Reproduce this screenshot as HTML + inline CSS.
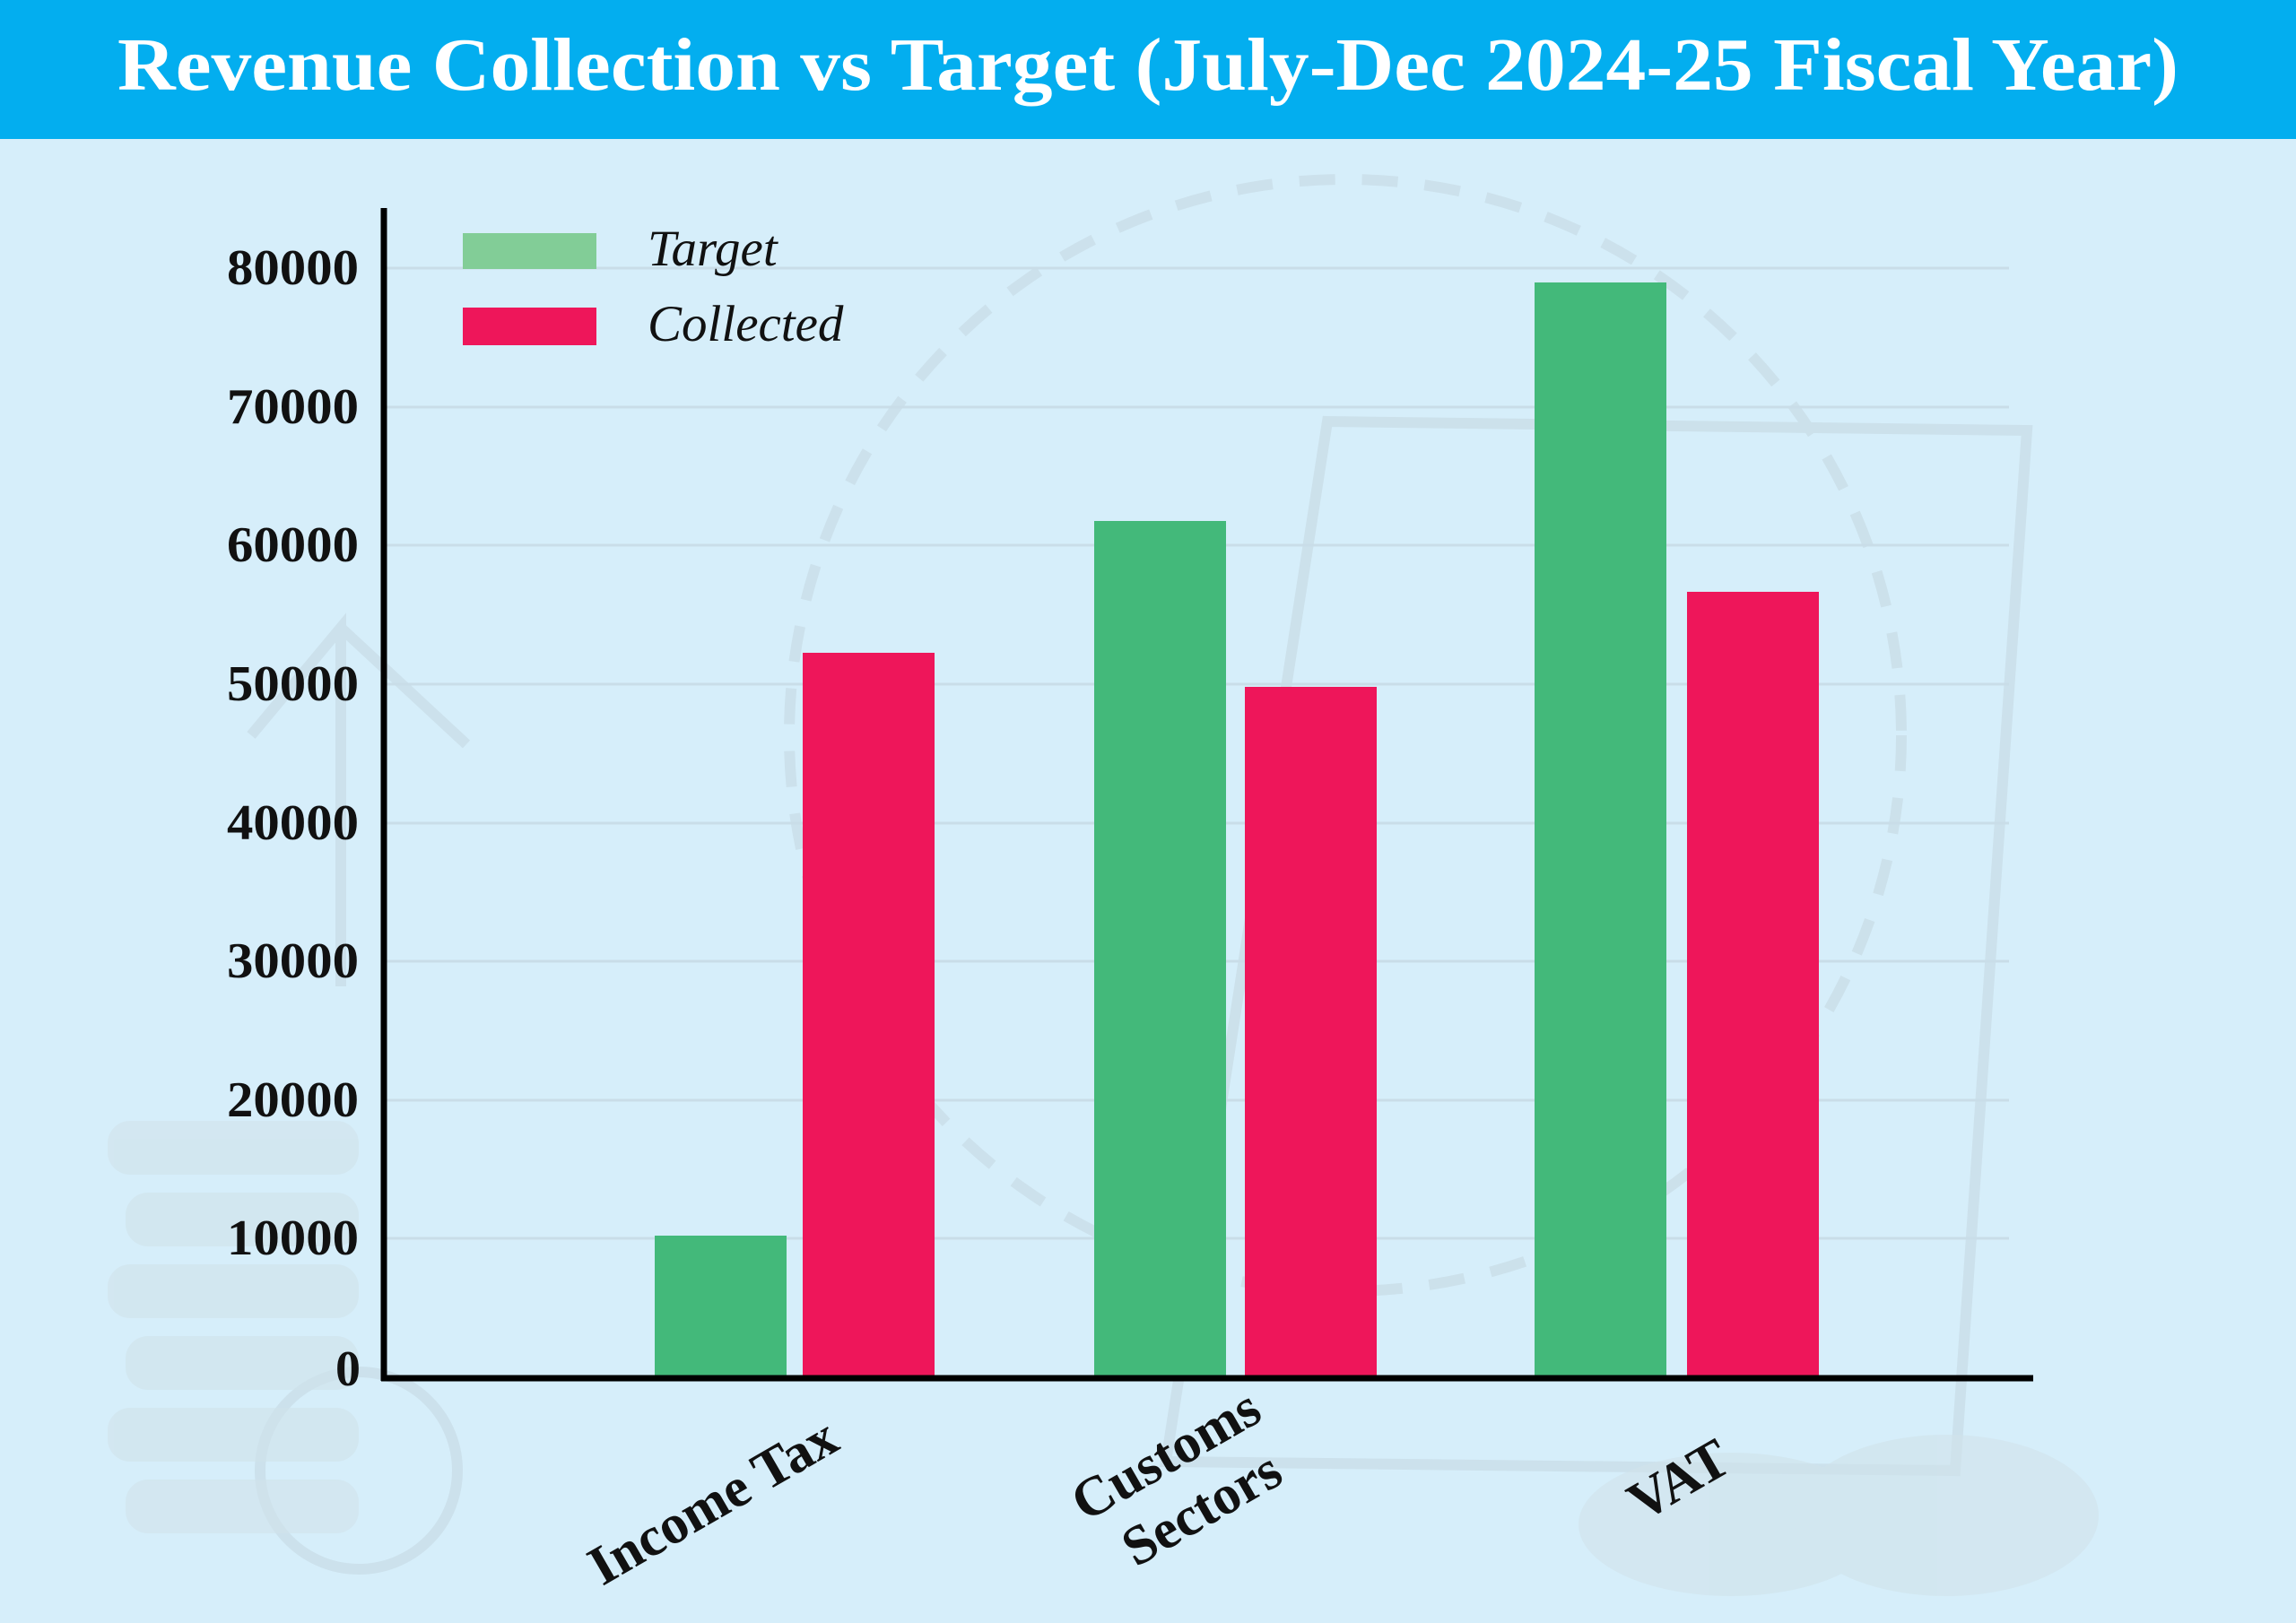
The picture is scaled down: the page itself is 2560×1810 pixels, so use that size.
<!DOCTYPE html>
<html><head><meta charset="utf-8"><style>
html,body{margin:0;padding:0;}
body{width:2560px;height:1810px;background:#d6eefa;position:relative;overflow:hidden;font-family:"Liberation Serif",serif;}
</style></head><body>
<svg width="2560" height="1810" xmlns="http://www.w3.org/2000/svg" style="position:absolute;left:0;top:0">
<rect x="0" y="0" width="2560" height="1810" fill="#d6eefa"/>
<g fill="none" stroke="#c8dce6" stroke-width="12" opacity="0.7">
<circle cx="1500" cy="820" r="620" stroke-dasharray="40 30"/>
<path d="M1480 470 L2260 480 L2180 1640 L1300 1630 Z"/>
<circle cx="400" cy="1640" r="110"/>
<path d="M380 1100 L380 700 L280 820 M380 700 L520 830"/>
</g>
<g fill="#d0e3eb" opacity="0.6">
<rect x="120" y="1250" width="280" height="60" rx="25"/>
<rect x="140" y="1330" width="260" height="60" rx="25"/>
<rect x="120" y="1410" width="280" height="60" rx="25"/>
<rect x="140" y="1490" width="260" height="60" rx="25"/>
<rect x="120" y="1570" width="280" height="60" rx="25"/>
<rect x="140" y="1650" width="260" height="60" rx="25"/>
<ellipse cx="1930" cy="1700" rx="170" ry="80"/>
<ellipse cx="2170" cy="1690" rx="170" ry="90"/>
</g>
<g stroke="#c9dde8" stroke-width="3">
<line x1="428" y1="299" x2="2240" y2="299"/><line x1="428" y1="454" x2="2240" y2="454"/>
<line x1="428" y1="608" x2="2240" y2="608"/><line x1="428" y1="763" x2="2240" y2="763"/>
<line x1="428" y1="918" x2="2240" y2="918"/><line x1="428" y1="1072" x2="2240" y2="1072"/>
<line x1="428" y1="1227" x2="2240" y2="1227"/><line x1="428" y1="1381" x2="2240" y2="1381"/>
</g>
<rect x="0" y="0" width="2560" height="155" fill="#03aeef"/>
<text x="131" y="100" textLength="2298" lengthAdjust="spacingAndGlyphs" font-family="Liberation Serif, serif" font-weight="bold" font-size="84" fill="#ffffff">Revenue Collection vs Target (July-Dec 2024-25 Fiscal Year)</text>
<rect x="730" y="1378" width="147" height="158" fill="#43b97a"/>
<rect x="895" y="728" width="147" height="808" fill="#ee165a"/>
<rect x="1220" y="581" width="147" height="955" fill="#43b97a"/>
<rect x="1388" y="766" width="147" height="770" fill="#ee165a"/>
<rect x="1711" y="315" width="147" height="1221" fill="#43b97a"/>
<rect x="1881" y="660" width="147" height="876" fill="#ee165a"/>
<line x1="428" y1="232" x2="428" y2="1540" stroke="#000" stroke-width="7"/>
<line x1="425" y1="1537" x2="2267" y2="1537" stroke="#000" stroke-width="7"/>
<g font-family="Liberation Serif, serif" font-weight="bold" font-size="56" fill="#111">
<text x="253" y="317" textLength="147" lengthAdjust="spacingAndGlyphs">80000</text>
<text x="253" y="472" textLength="147" lengthAdjust="spacingAndGlyphs">70000</text>
<text x="253" y="626" textLength="147" lengthAdjust="spacingAndGlyphs">60000</text>
<text x="253" y="781" textLength="147" lengthAdjust="spacingAndGlyphs">50000</text>
<text x="253" y="936" textLength="147" lengthAdjust="spacingAndGlyphs">40000</text>
<text x="253" y="1090" textLength="147" lengthAdjust="spacingAndGlyphs">30000</text>
<text x="253" y="1245" textLength="147" lengthAdjust="spacingAndGlyphs">20000</text>
<text x="253" y="1399" textLength="147" lengthAdjust="spacingAndGlyphs">10000</text>
<text x="402" y="1545" text-anchor="end">0</text>
</g>
<rect x="516" y="260" width="149" height="40" fill="#82cd97"/>
<rect x="516" y="343" width="149" height="42" fill="#ee165a"/>
<g font-family="Liberation Serif, serif" font-style="italic" font-size="57" fill="#111">
<text x="722" y="296">Target</text><text x="722" y="380">Collected</text>
</g>
<g font-family="Liberation Serif, serif" font-weight="bold" font-size="62" fill="#111" text-anchor="middle">
<text transform="translate(805,1692) rotate(-30)">Income Tax</text>
<text transform="translate(1310,1640) rotate(-30)">Customs</text>
<text transform="translate(1350,1700) rotate(-30)">Sectors</text>
<text transform="translate(1882,1668) rotate(-30)">VAT</text>
</g>
</svg>
</body></html>
